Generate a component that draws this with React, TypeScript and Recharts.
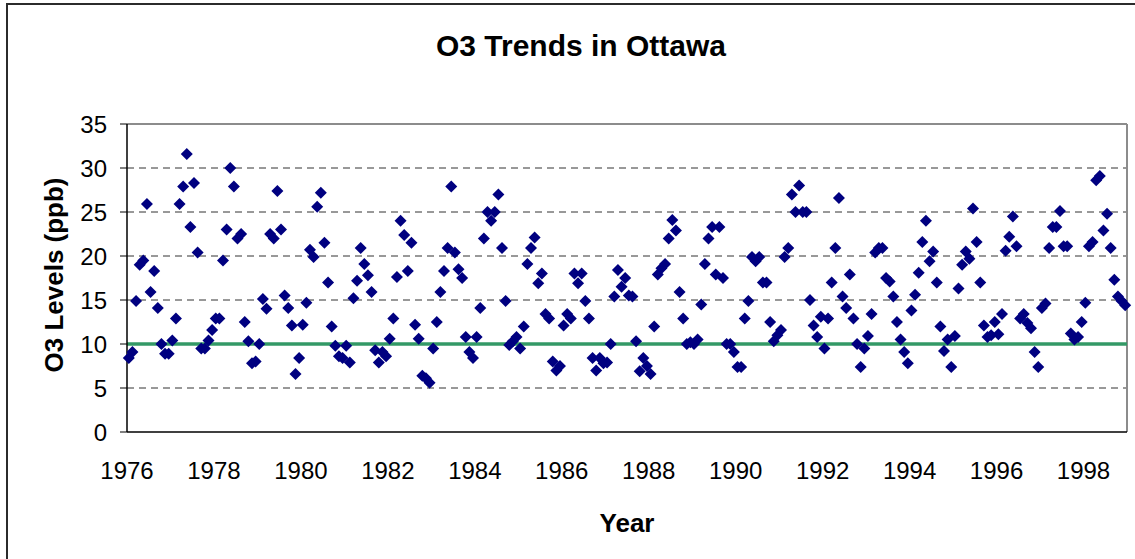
import { ScatterChart, Scatter, XAxis, YAxis, CartesianGrid, ReferenceLine, Label } from "recharts";

// monthly ozone readings, one row per year (Jan..Dec)
const YEARS = [
  1976, 1977, 1978, 1979, 1980, 1981, 1982, 1983, 1984, 1985, 1986, 1987,
  1988, 1989, 1990, 1991, 1992, 1993, 1994, 1995, 1996, 1997, 1998,
];

const O3_1976_1981 = [
  [8.4, 9.1, 14.9, 19.0, 19.5, 25.9, 15.9, 18.3, 14.1, 10.0, 8.9, 8.9],
  [10.4, 12.9, 25.9, 27.9, 31.6, 23.3, 28.3, 20.4, 9.5, 9.5, 10.4, 11.6],
  [12.9, 12.9, 19.5, 23.0, 30.0, 27.9, 22.0, 22.5, 12.5, 10.3, 7.8, 8.0],
  [10.0, 15.1, 14.0, 22.5, 22.0, 27.4, 23.0, 15.5, 14.1, 12.1, 6.6, 8.4],
  [12.2, 14.7, 20.7, 19.9, 25.6, 27.2, 21.5, 17.0, 12.0, 9.8, 8.6, 8.4],
  [9.8, 7.9, 15.2, 17.2, 20.9, 19.1, 17.8, 15.9, 9.3, 7.9, 9.1, 8.6],
];

const O3_1982_1987 = [
  [10.6, 12.9, 17.6, 24.0, 22.4, 18.3, 21.5, 12.2, 10.6, 6.4, 6.1, 5.6],
  [9.5, 12.5, 15.9, 18.3, 20.9, 27.9, 20.4, 18.5, 17.5, 10.8, 9.1, 8.4],
  [10.8, 14.1, 22.0, 25.0, 24.0, 25.0, 27.0, 20.9, 14.9, 9.9, 10.3, 10.8],
  [9.5, 12.0, 19.1, 20.9, 22.1, 16.9, 18.0, 13.4, 12.9, 8.0, 7.0, 7.5],
  [12.1, 13.4, 12.9, 18.0, 16.9, 18.0, 14.9, 12.9, 8.4, 7.0, 8.4, 7.8],
  [7.9, 10.0, 15.4, 18.4, 16.5, 17.5, 15.5, 15.4, 10.3, 6.9, 8.4, 7.5],
];

const O3_1988_1993 = [
  [6.6, 12.0, 17.9, 18.6, 19.1, 22.0, 24.1, 22.9, 15.9, 12.9, 10.0, 10.2],
  [10.0, 10.5, 14.5, 19.1, 22.0, 23.3, 17.9, 23.3, 17.5, 10.0, 10.0, 9.1],
  [7.4, 7.4, 12.9, 14.9, 19.9, 19.4, 19.9, 17.0, 17.0, 12.5, 10.3, 11.0],
  [11.6, 19.9, 20.9, 27.0, 25.0, 28.0, 25.0, 25.0, 15.0, 12.1, 10.8, 13.1],
  [9.5, 12.9, 17.0, 20.9, 26.6, 15.4, 14.1, 17.9, 12.9, 10.0, 7.4, 9.5],
  [10.9, 13.4, 20.4, 20.9, 20.9, 17.5, 17.1, 15.4, 12.5, 10.5, 9.1, 7.8],
];

const O3_1994_1998 = [
  [13.8, 15.6, 18.1, 21.6, 24.0, 19.4, 20.5, 17.0, 12.0, 9.2, 10.5, 7.4],
  [10.9, 16.3, 19.0, 20.5, 19.7, 25.4, 21.6, 17.0, 12.1, 10.8, 11.0, 12.5],
  [11.1, 13.4, 20.6, 22.2, 24.5, 21.1, 12.9, 13.4, 12.4, 11.8, 9.1, 7.4],
  [14.1, 14.6, 20.9, 23.3, 23.3, 25.1, 21.1, 21.1, 11.2, 10.5, 10.8, 12.5],
  [14.7, 21.1, 21.6, 28.6, 29.1, 22.9, 24.8, 20.9, 17.3, 15.4, 14.9, 14.4],
];

const X_TICKS = [1976, 1978, 1980, 1982, 1984, 1986, 1988, 1990, 1992, 1994, 1996, 1998];
const Y_TICKS = [0, 5, 10, 15, 20, 25, 30, 35];
const GRID_VALUES = [5, 10, 15, 20, 25, 30];
const THRESHOLD = 10;

const monthly = [...O3_1976_1981, ...O3_1982_1987, ...O3_1988_1993, ...O3_1994_1998];
const points = YEARS.flatMap((yr, r) =>
  monthly[r].map((v, m) => ({ year: yr + (m + 0.5) / 12, o3: v }))
);

const FONT = "'Liberation Sans', Arial, sans-serif";

const Diamond = (props: any) => {
  const { cx, cy } = props;
  if (cx == null || cy == null) return null;
  const r = 6;
  return (
    <polygon
      points={`${cx},${cy - r} ${cx + r},${cy} ${cx},${cy + r} ${cx - r},${cy}`}
      fill="#000080"
    />
  );
};

const YTitle = ({ viewBox }: any) => {
  const x = (viewBox?.x ?? 0) + 63;
  const y = (viewBox?.y ?? 124) + (viewBox?.height ?? 308) / 2 - 3;
  return (
    <text
      x={x}
      y={y}
      transform={`rotate(-90, ${x}, ${y})`}
      textAnchor="middle"
      fontFamily={FONT}
      fontWeight="bold"
      fontSize={26}
      fill="#000"
    >
      O3 Levels (ppb)
    </text>
  );
};

const XTitle = ({ viewBox }: any) => {
  const x = (viewBox?.x ?? 127) + (viewBox?.width ?? 1000) / 2;
  const y = (viewBox?.y ?? 432) + 100;
  return (
    <text x={x} y={y} textAnchor="middle" fontFamily={FONT} fontWeight="bold" fontSize={26} fill="#000">
      Year
    </text>
  );
};

export default function App() {
  return (
    <div style={{ position: "absolute", left: 0, top: 0, width: 1135, height: 559, overflow: "hidden", background: "#fff" }}>
      {/* chart area frame */}
      <div
        style={{
          position: "absolute",
          left: 6,
          top: 3,
          width: 1148,
          height: 600,
          border: "2px solid #2b2b2b",
        }}
      />
      <svg style={{ position: "absolute", left: 0, top: 0 }} width={1135} height={80}>
        <text x={581} y={56} textAnchor="middle" fontFamily={FONT} fontWeight="bold" fontSize={30} fill="#000">
          O3 Trends in Ottawa
        </text>
      </svg>
      <div style={{ position: "absolute", left: 0, top: 0 }}>
        <ScatterChart width={1135} height={559} margin={{ top: 124, right: 8, left: 0, bottom: 0 }}>
          <CartesianGrid
            vertical={false}
            horizontalValues={GRID_VALUES}
            stroke="#333"
            strokeDasharray="7 5"
          />
          <XAxis
            type="number"
            dataKey="year"
            domain={[1976, 1999]}
            ticks={X_TICKS}
            interval={0}
            height={127}
            tickLine={false}
            tickSize={0}
            tickMargin={30}
            axisLine={{ stroke: "#000", strokeWidth: 1.5 }}
            tick={{ fill: "#000", fontSize: 24, fontFamily: FONT }}
          >
            <Label content={<XTitle />} />
          </XAxis>
          <YAxis
            type="number"
            dataKey="o3"
            domain={[0, 35]}
            ticks={Y_TICKS}
            interval={0}
            width={127}
            tickSize={7}
            tickMargin={13}
            tickLine={{ stroke: "#000" }}
            axisLine={{ stroke: "#000", strokeWidth: 1.5 }}
            tick={{ fill: "#000", fontSize: 24, fontFamily: FONT }}
          >
            <Label content={<YTitle />} />
          </YAxis>
          <ReferenceLine y={35} stroke="#8c8c8c" strokeWidth={2} />
          <ReferenceLine x={1999} stroke="#8c8c8c" strokeWidth={2} />
          <ReferenceLine y={THRESHOLD} stroke="#339966" strokeWidth={3.5} />
          <Scatter data={points} shape={<Diamond />} isAnimationActive={false} />
        </ScatterChart>
      </div>
    </div>
  );
}
